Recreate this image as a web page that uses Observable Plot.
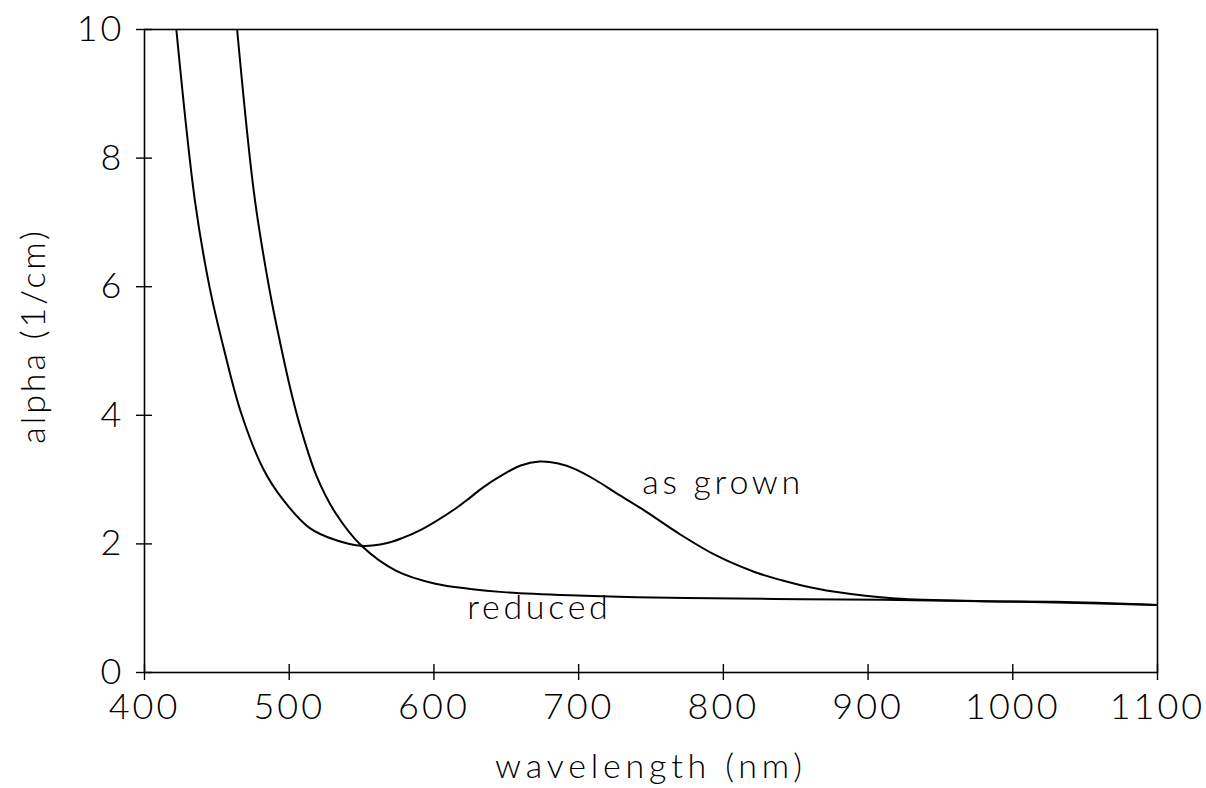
<!DOCTYPE html>
<html><head><meta charset="utf-8">
<script src="https://cdn.jsdelivr.net/npm/d3@7"></script>
<script src="https://cdn.jsdelivr.net/npm/@observablehq/plot@0.6"></script>
<style>
html,body{margin:0;padding:0;background:#fff;}
</style></head><body><div id="chart"></div>
<script>
// Tick values
const xTicks = [400, 500, 600, 700, 800, 900, 1000, 1100];
const yTicks = [0, 2, 4, 6, 8, 10];

// "as grown" series
const asGrownWl    = [422, 435, 445, 455, 467, 482, 496, 514, 532, 550, 567, 578, 592, 615, 625, 634, 648, 660, 673, 686, 698, 712, 726, 744, 770, 795, 822, 841, 855, 876, 919, 979, 1030, 1100];
const asGrownAlpha = [10.0, 7.31, 5.99, 5.02, 4.02, 3.17, 2.68, 2.25, 2.06, 1.97, 2.01, 2.09, 2.23, 2.55, 2.72, 2.88, 3.08, 3.22, 3.28, 3.25, 3.16, 2.99, 2.79, 2.54, 2.15, 1.82, 1.56, 1.43, 1.35, 1.26, 1.15, 1.11, 1.10, 1.05];

// "reduced" series
const reducedWl    = [464, 476, 486, 494, 502, 509, 519, 532, 550, 574, 601, 625, 648, 694, 740, 809, 855, 910, 979, 1030, 1100];
const reducedAlpha = [10.0, 7.40, 6.00, 5.10, 4.30, 3.72, 3.05, 2.48, 1.97, 1.58, 1.38, 1.30, 1.25, 1.20, 1.17, 1.15, 1.14, 1.13, 1.11, 1.09, 1.05];

// In-plot labels
const labelText  = ["as grown", "reduced"];
const labelWl    = [744, 623];
const labelAlpha = [2.95, 1.0];

const xTitle = "wavelength (nm)";
const yTitle = "alpha (1/cm)";

const series = [
  ...asGrownWl.map((w, i) => ({wl: w, alpha: asGrownAlpha[i], s: "as grown"})),
  ...reducedWl.map((w, i) => ({wl: w, alpha: reducedAlpha[i], s: "reduced"}))
];
const labels = labelText.map((t, i) => ({t, wl: labelWl[i], alpha: labelAlpha[i]}));

const font = "Lato, 'Open Sans', sans-serif";

const chart = Plot.plot({
  width: 1206, height: 788,
  marginLeft: 144, marginRight: 49, marginTop: 29, marginBottom: 116,
  style: {fontFamily: font, fontWeight: 300, fontSize: "36px", background: "white", color: "black", overflow: "visible"},
  x: {domain: [400, 1100]},
  y: {domain: [0, 10]},
  marks: [
    Plot.frame({stroke: "black", strokeWidth: 1.6}),
    Plot.axisX(xTicks, {tickSize: 16, dy: -8, tickFormat: () => "", label: null, strokeWidth: 1.4}),
    Plot.axisX(xTicks, {tickSize: 0, tickPadding: 21, label: null, tickFormat: d => String(d), fontSize: 36}),
    Plot.axisY(yTicks, {tickSize: 16, dx: 8, tickFormat: () => "", label: null, strokeWidth: 1.4}),
    Plot.axisY(yTicks, {tickSize: 0, tickPadding: 20, label: null, tickFormat: d => String(d), fontSize: 36}),
    Plot.lineY(series, {x: "wl", y: "alpha", z: "s", curve: "catmull-rom", stroke: "black", strokeWidth: 2, clip: true}),
    Plot.text(labels, {x: "wl", y: "alpha", text: "t", textAnchor: "start", lineAnchor: "middle", fontSize: 34}),
    Plot.text([xTitle], {frameAnchor: "bottom", textAnchor: "middle", dy: 95, dx: 0, lineAnchor: "middle", fontSize: 34}),
    Plot.text([yTitle], {frameAnchor: "left", textAnchor: "middle", rotate: -90, dx: -110, dy: -15, lineAnchor: "middle", fontSize: 34})
  ]
});
// letter spacing for the wide plotter-style lettering
const textGroups = chart.querySelectorAll('g[aria-label="text"]');
const textSpacing = ["3.7px", "4.8px", "2.9px"];
textGroups.forEach((g, i) => { g.style.letterSpacing = textSpacing[i] || "3px"; });
chart.querySelectorAll('g[aria-label="x-axis tick label"], g[aria-label="y-axis tick label"]').forEach(g => g.style.letterSpacing = "3px");
document.getElementById("chart").append(chart);
</script>
</body></html>
